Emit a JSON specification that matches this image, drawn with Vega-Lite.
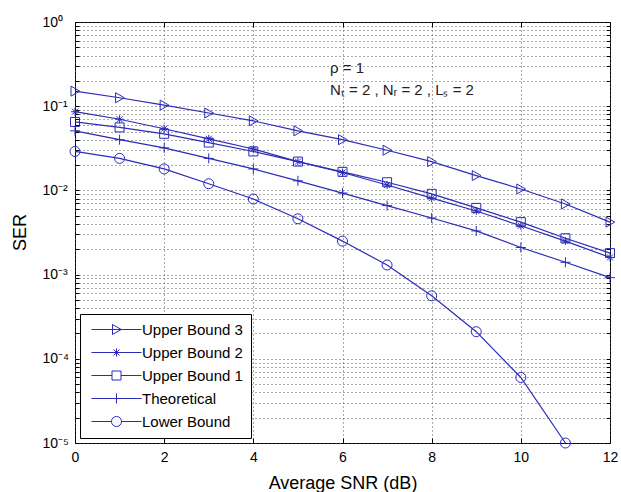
{
  "$schema": "https://vega.github.io/schema/vega-lite/v6.json",
  "width": 535,
  "height": 421,
  "autosize": "none",
  "padding": {"left": 75, "top": 22, "right": 11, "bottom": 49},
  "background": "white",
  "config": {
    "font": "Liberation Sans",
    "view": {"stroke": "black", "strokeWidth": 1},
    "axis": {"domain": false, "labelColor": "black", "titleColor": "black", "tickColor": "black", "labelFont": "Liberation Sans", "titleFont": "Liberation Sans", "titleFontWeight": "normal"}
  },
  "datasets": {
    "ser": [
      {"snr": 0, "ser": 0.151, "series": "Upper Bound 3"},
      {"snr": 1, "ser": 0.126, "series": "Upper Bound 3"},
      {"snr": 2, "ser": 0.103, "series": "Upper Bound 3"},
      {"snr": 3, "ser": 0.083, "series": "Upper Bound 3"},
      {"snr": 4, "ser": 0.067, "series": "Upper Bound 3"},
      {"snr": 5, "ser": 0.051, "series": "Upper Bound 3"},
      {"snr": 6, "ser": 0.040, "series": "Upper Bound 3"},
      {"snr": 7, "ser": 0.030, "series": "Upper Bound 3"},
      {"snr": 8, "ser": 0.022, "series": "Upper Bound 3"},
      {"snr": 9, "ser": 0.015, "series": "Upper Bound 3"},
      {"snr": 10, "ser": 0.0104, "series": "Upper Bound 3"},
      {"snr": 11, "ser": 0.0069, "series": "Upper Bound 3"},
      {"snr": 12, "ser": 0.0042, "series": "Upper Bound 3"},
      {"snr": 0, "ser": 0.086, "series": "Upper Bound 2"},
      {"snr": 1, "ser": 0.070, "series": "Upper Bound 2"},
      {"snr": 2, "ser": 0.054, "series": "Upper Bound 2"},
      {"snr": 3, "ser": 0.041, "series": "Upper Bound 2"},
      {"snr": 4, "ser": 0.031, "series": "Upper Bound 2"},
      {"snr": 5, "ser": 0.022, "series": "Upper Bound 2"},
      {"snr": 6, "ser": 0.0163, "series": "Upper Bound 2"},
      {"snr": 7, "ser": 0.0116, "series": "Upper Bound 2"},
      {"snr": 8, "ser": 0.0081, "series": "Upper Bound 2"},
      {"snr": 9, "ser": 0.0057, "series": "Upper Bound 2"},
      {"snr": 10, "ser": 0.0038, "series": "Upper Bound 2"},
      {"snr": 11, "ser": 0.0025, "series": "Upper Bound 2"},
      {"snr": 12, "ser": 0.0016, "series": "Upper Bound 2"},
      {"snr": 0, "ser": 0.065, "series": "Upper Bound 1"},
      {"snr": 1, "ser": 0.056, "series": "Upper Bound 1"},
      {"snr": 2, "ser": 0.047, "series": "Upper Bound 1"},
      {"snr": 3, "ser": 0.037, "series": "Upper Bound 1"},
      {"snr": 4, "ser": 0.029, "series": "Upper Bound 1"},
      {"snr": 5, "ser": 0.022, "series": "Upper Bound 1"},
      {"snr": 6, "ser": 0.0166, "series": "Upper Bound 1"},
      {"snr": 7, "ser": 0.0125, "series": "Upper Bound 1"},
      {"snr": 8, "ser": 0.0091, "series": "Upper Bound 1"},
      {"snr": 9, "ser": 0.0062, "series": "Upper Bound 1"},
      {"snr": 10, "ser": 0.0042, "series": "Upper Bound 1"},
      {"snr": 11, "ser": 0.0027, "series": "Upper Bound 1"},
      {"snr": 12, "ser": 0.0018, "series": "Upper Bound 1"},
      {"snr": 0, "ser": 0.051, "series": "Theoretical"},
      {"snr": 1, "ser": 0.040, "series": "Theoretical"},
      {"snr": 2, "ser": 0.032, "series": "Theoretical"},
      {"snr": 3, "ser": 0.024, "series": "Theoretical"},
      {"snr": 4, "ser": 0.018, "series": "Theoretical"},
      {"snr": 5, "ser": 0.013, "series": "Theoretical"},
      {"snr": 6, "ser": 0.0093, "series": "Theoretical"},
      {"snr": 7, "ser": 0.0066, "series": "Theoretical"},
      {"snr": 8, "ser": 0.0047, "series": "Theoretical"},
      {"snr": 9, "ser": 0.0033, "series": "Theoretical"},
      {"snr": 10, "ser": 0.0021, "series": "Theoretical"},
      {"snr": 11, "ser": 0.0014, "series": "Theoretical"},
      {"snr": 12, "ser": 0.00092, "series": "Theoretical"},
      {"snr": 0, "ser": 0.029, "series": "Lower Bound"},
      {"snr": 1, "ser": 0.024, "series": "Lower Bound"},
      {"snr": 2, "ser": 0.018, "series": "Lower Bound"},
      {"snr": 3, "ser": 0.012, "series": "Lower Bound"},
      {"snr": 4, "ser": 0.0079, "series": "Lower Bound"},
      {"snr": 5, "ser": 0.0046, "series": "Lower Bound"},
      {"snr": 6, "ser": 0.0025, "series": "Lower Bound"},
      {"snr": 7, "ser": 0.0013, "series": "Lower Bound"},
      {"snr": 8, "ser": 0.00056, "series": "Lower Bound"},
      {"snr": 9, "ser": 0.00021, "series": "Lower Bound"},
      {"snr": 10, "ser": 0.00006, "series": "Lower Bound"},
      {"snr": 11, "ser": 0.00001, "series": "Lower Bound"}
    ],
    "notes": [
      {"snr": 5.72, "ser": 0.284, "label": "ρ = 1"},
      {"snr": 5.72, "ser": 0.156, "label": "Nₜ = 2 , Nᵣ = 2 , Lₛ = 2"}
    ]
  },
  "resolve": {"axis": {"x": "independent", "y": "independent"}, "scale": {"shape": "independent"}},
  "layer": [
    {
      "data": {"name": "ser"},
      "mark": {"type": "line", "color": "#2b2bb8", "strokeWidth": 1.2},
      "encoding": {
        "x": {
          "field": "snr", "type": "quantitative",
          "scale": {"domain": [0, 12], "nice": false, "zero": false},
          "axis": {
            "orient": "bottom", "title": "Average SNR (dB)", "values": [0, 2, 4, 6, 8, 10, 12],
            "grid": true, "gridColor": "#555", "gridDash": [1, 3], "gridWidth": 1,
            "tickSize": -5, "labelPadding": 12, "labelFontSize": 14, "labelFlush": false,
            "titleFontSize": 18, "titleY": 40, "titleBaseline": "middle"
          }
        },
        "y": {
          "field": "ser", "type": "quantitative",
          "scale": {"type": "log", "domain": [0.00001, 1], "nice": false},
          "axis": {
            "orient": "left", "title": "SER",
            "values": [0.00001, 0.00002, 0.00003, 0.00004, 0.00005, 0.00006, 0.00007, 0.00008, 0.00009,
                       0.0001, 0.0002, 0.0003, 0.0004, 0.0005, 0.0006, 0.0007, 0.0008, 0.0009,
                       0.001, 0.002, 0.003, 0.004, 0.005, 0.006, 0.007, 0.008, 0.009,
                       0.01, 0.02, 0.03, 0.04, 0.05, 0.06, 0.07, 0.08, 0.09,
                       0.1, 0.2, 0.3, 0.4, 0.5, 0.6, 0.7, 0.8, 0.9, 1],
            "labelExpr": "abs(log(datum.value)/LN10 - round(log(datum.value)/LN10)) < 0.001 ? (round(log(datum.value)/LN10) == 0 ? '10⁰' : '10⁻' + ['','¹','²','³','⁴','⁵'][-round(log(datum.value)/LN10)]) : ''",
            "labelOverlap": false, "labelBound": false, "labelFlush": false,
            "labelAlign": "left", "labelPadding": 37, "labelFontSize": 14,
            "grid": true, "gridColor": "#555", "gridDash": [1, 3], "gridWidth": 1,
            "tickSize": -4,
            "titleFontSize": 18, "titleX": -55, "titleY": 210, "titleAngle": -90, "titleBaseline": "middle", "titleAlign": "center"
          }
        },
        "detail": {"field": "series"}
      }
    },
    {
      "data": {"name": "ser"},
      "mark": {"type": "point", "filled": false, "color": "#2b2bb8", "size": 100, "strokeWidth": 1, "opacity": 1},
      "encoding": {
        "x": {
          "field": "snr", "type": "quantitative",
          "scale": {"domain": [0, 12], "nice": false, "zero": false},
          "axis": {"orient": "top", "title": null, "labels": false, "grid": false, "values": [0, 2, 4, 6, 8, 10, 12], "tickSize": -5}
        },
        "y": {
          "field": "ser", "type": "quantitative",
          "scale": {"type": "log", "domain": [0.00001, 1], "nice": false},
          "axis": {"orient": "right", "title": null, "labels": false, "grid": false, "tickSize": -4,
            "values": [0.00001, 0.00002, 0.00003, 0.00004, 0.00005, 0.00006, 0.00007, 0.00008, 0.00009,
                       0.0001, 0.0002, 0.0003, 0.0004, 0.0005, 0.0006, 0.0007, 0.0008, 0.0009,
                       0.001, 0.002, 0.003, 0.004, 0.005, 0.006, 0.007, 0.008, 0.009,
                       0.01, 0.02, 0.03, 0.04, 0.05, 0.06, 0.07, 0.08, 0.09,
                       0.1, 0.2, 0.3, 0.4, 0.5, 0.6, 0.7, 0.8, 0.9, 1]}
        },
        "shape": {
          "field": "series", "type": "nominal",
          "scale": {
            "domain": ["Upper Bound 3", "Upper Bound 2", "Upper Bound 1", "Theoretical", "Lower Bound"],
            "range": ["M-0.8,-1L0.95,0L-0.8,1Z", "M0,-0.8V0.8M-0.8,0H0.8M-0.6,-0.6L0.6,0.6M-0.6,0.6L0.6,-0.6", "M-0.9,-0.9H0.9V0.9H-0.9Z", "M-1,0H1M0,-1V1", "circle"]
          },
          "legend": null
        }
      }
    },
    {
      "data": {"name": "ser"},
      "mark": {"type": "point", "filled": false, "color": "#2b2bb8", "size": 100, "strokeWidth": 1, "opacity": 0},
      "encoding": {
        "x": {"field": "snr", "type": "quantitative", "scale": {"domain": [0, 12], "nice": false, "zero": false}, "axis": null},
        "y": {"field": "ser", "type": "quantitative", "scale": {"type": "log", "domain": [0.00001, 1], "nice": false}, "axis": null},
        "shape": {
          "field": "series", "type": "nominal",
          "scale": {
            "domain": ["Upper Bound 3", "Upper Bound 2", "Upper Bound 1", "Theoretical", "Lower Bound"],
            "range": ["M-5,0H5M-0.8,-1L0.95,0L-0.8,1Z", "M-5,0H5M0,-0.8V0.8M-0.6,-0.6L0.6,0.6M-0.6,0.6L0.6,-0.6", "M-5,0H-0.9M0.9,0H5M-0.9,-0.9H0.9V0.9H-0.9Z", "M-5,0H5M0,-1V1", "M-5,0H-1M1,0H5M-1,0A1,1,0,1,1,1,0A1,1,0,1,1,-1,0"]
          },
          "legend": {
            "title": null, "orient": "none", "legendX": 5, "legendY": 292,
            "fillColor": "white", "strokeColor": "black", "padding": 8,
            "symbolSize": 100, "symbolStrokeColor": "#2b2bb8", "symbolFillColor": "transparent", "symbolStrokeWidth": 1, "symbolOpacity": 1,
            "symbolOffset": 21, "labelOffset": 18, "labelFontSize": 15, "labelColor": "black", "labelFont": "Liberation Sans",
            "rowPadding": 7
          }
        }
      }
    },
    {
      "data": {"name": "notes"},
      "mark": {"type": "text", "align": "left", "baseline": "middle", "fontSize": 15, "color": "#222", "font": "Liberation Sans"},
      "encoding": {
        "x": {"field": "snr", "type": "quantitative", "scale": {"domain": [0, 12], "nice": false, "zero": false}, "axis": null},
        "y": {"field": "ser", "type": "quantitative", "scale": {"type": "log", "domain": [0.00001, 1], "nice": false}, "axis": null},
        "text": {"field": "label"}
      }
    }
  ]
}
